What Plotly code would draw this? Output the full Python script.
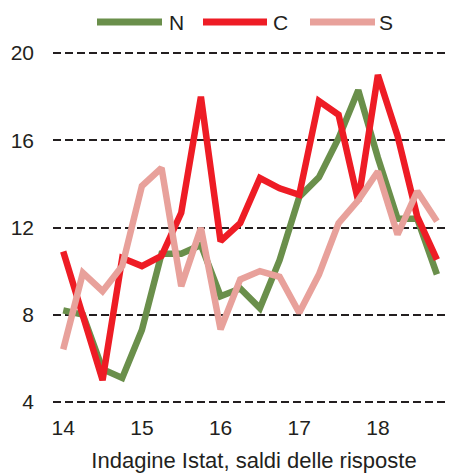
import plotly.graph_objects as go

x_vals = [14 + 0.25 * i for i in range(20)]
series_names = ["N", "C", "S"]
N = [8.2, 8.0, 5.5, 5.1, 7.3, 10.8, 10.8, 11.2, 8.85, 9.2, 8.3, 10.5, 13.4, 14.3, 16.1, 18.3, 15.2, 12.4, 12.4, 9.85]
C = [10.9, 8.0, 5.0, 10.6, 10.23, 10.7, 12.67, 18.0, 11.37, 12.2, 14.27, 13.8, 13.5, 17.8, 17.17, 13.2, 19.0, 16.2, 12.5, 10.53]
S = [6.41, 9.92, 9.08, 10.23, 13.9, 14.73, 9.31, 11.98, 7.33, 9.62, 10.0, 9.74, 8.09, 9.84, 12.2, 13.25, 14.57, 11.68, 13.66, 12.29]
colors = ["#6A8F4B", "#EE1C25", "#E8A19B"]
x_ticks = [14, 15, 16, 17, 18]
y_ticks = [4, 8, 12, 16, 20]
x_title = "Indagine Istat, saldi delle risposte"

# page body has an 8px margin, so the figure is sized/positioned to compensate
OFF = 8
W, H = 455 - OFF, 473 - OFF
ML, MR, MT, MB = 45, 0, 44, 70
PW, PH = W - ML - MR, H - MT - MB

fig = go.Figure()
for name, ys, col in zip(series_names, [N, C, S], colors):
    fig.add_trace(go.Scatter(x=x_vals, y=ys, name=name, mode="lines",
                             line=dict(color=col, width=6.5), showlegend=False))

# custom legend (layout positions in viewport pixels -> paper coords)
leg_y_px = 22 - OFF
leg_items = [(97, 162, 167), (203, 267, 271), (310, 375, 377)]
ypap = (H - MB - leg_y_px) / PH
for (x0, x1, xt), name, col in zip(leg_items, series_names, colors):
    fig.add_shape(type="line", xref="paper", yref="paper",
                  x0=(x0 - OFF - ML) / PW, x1=(x1 - OFF - ML) / PW, y0=ypap, y1=ypap,
                  line=dict(color=col, width=7))
    fig.add_annotation(xref="paper", yref="paper", x=(xt - OFF - ML) / PW, y=ypap,
                       text=name, showarrow=False, xanchor="left", yanchor="middle",
                       font=dict(size=21))

font = "Liberation Sans, Arial, sans-serif"
fig.update_layout(
    width=W, height=H,
    margin=dict(l=ML, r=MR, t=MT, b=MB, autoexpand=False),
    paper_bgcolor="white", plot_bgcolor="white",
    font=dict(family=font, size=21, color="#231F20"),
    showlegend=False,
    xaxis=dict(range=[13.87, 18.98], tickvals=x_ticks, ticktext=[str(t) for t in x_ticks],
               showgrid=False, zeroline=False, showline=False, ticks="",
               ticklabelstandoff=10, automargin=False,
               title=dict(text=x_title, font=dict(size=22), standoff=18)),
    yaxis=dict(range=[3.95, 20.05], tickvals=y_ticks, showgrid=True, gridcolor="#231F20",
               gridwidth=2, griddash="8px,4px", zeroline=False, showline=False, ticks="",
               ticklabelstandoff=18, automargin=False),
)
fig.write_html("out.html")
